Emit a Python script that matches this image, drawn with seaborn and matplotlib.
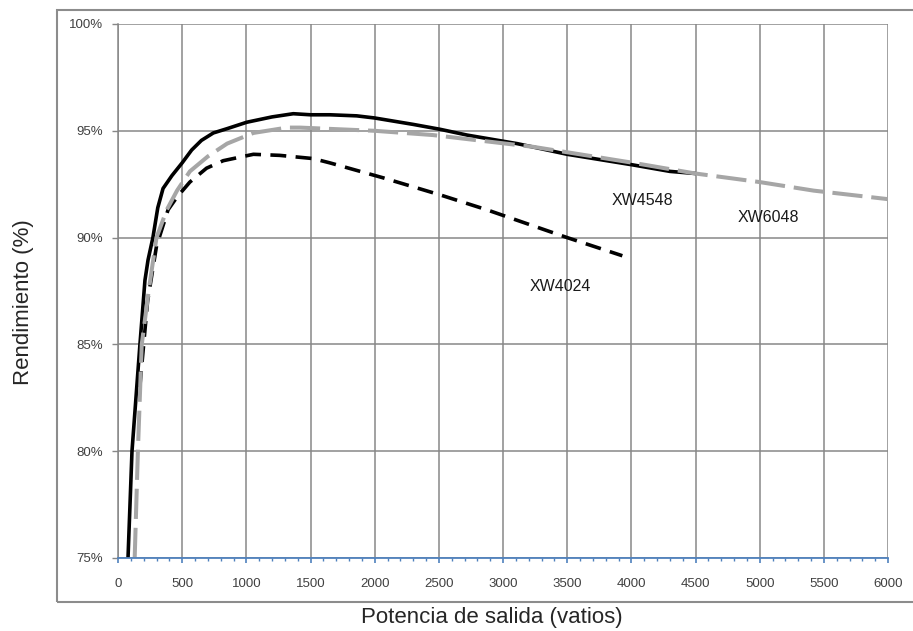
import matplotlib
matplotlib.use("Agg")
import matplotlib.pyplot as plt
from matplotlib.patches import Rectangle
from matplotlib.ticker import MultipleLocator, FuncFormatter
import seaborn as sns
import pandas as pd

# ---- data ----
xw4548_w = [78, 109, 171, 210, 234, 272, 310, 351, 420, 500, 574, 650, 743, 850, 1003, 1200, 1366,
            1500, 1650, 1860, 2000, 2300, 2510, 2720, 3110, 3500, 4015, 4300, 4500]
xw4548_eff = [75.0, 80.0, 85.0, 88.0, 88.95, 90.0, 91.4, 92.3, 92.9, 93.5, 94.1, 94.55, 94.9, 95.1, 95.4,
              95.65, 95.8, 95.75, 95.75, 95.7, 95.6, 95.3, 95.07, 94.8, 94.4, 93.9, 93.4, 93.1, 93.0]

xw4024_w = [170, 230, 300, 390, 460, 560, 690, 820, 1055, 1260, 1520, 1650, 2065, 2510, 2875, 3500, 3930]
xw4024_eff = [83.0, 87.0, 89.6, 91.3, 91.9, 92.6, 93.25, 93.6, 93.9, 93.85, 93.7, 93.5, 92.8, 92.0, 91.3, 90.0, 89.15]

xw6048_w = [130, 155, 185, 240, 300, 380, 460, 560, 700, 850, 1055, 1317, 1418, 2000, 2455, 3235, 4015,
            4500, 5000, 5420, 6000]
xw6048_eff = [75.0, 80.0, 85.0, 87.55, 90.0, 91.3, 92.2, 93.1, 93.8, 94.4, 94.9, 95.15, 95.15, 95.0, 94.8,
              94.25, 93.5, 93.0, 92.6, 92.2, 91.8]

series_labels = ["XW4548", "XW4024", "XW6048"]
label_pos_w = [3850, 3210, 4831]
label_pos_eff = [91.76, 87.69, 90.96]

x_label = "Potencia de salida (vatios)"
y_label = "Rendimiento (%)"

# ---- figure ----
sns.set_style("white")
plt.rcParams["font.family"] = ["Liberation Sans", "DejaVu Sans"]

W, H = 913, 631
fig = plt.figure(figsize=(W / 100, H / 100), dpi=100)
ax = fig.add_axes([118 / W, 1 - 558 / H, (888 - 118) / W, (558 - 24) / H])

grid_c = "#878787"
blue = "#4f81bd"

df_a = pd.DataFrame({"w": xw4548_w, "eff": xw4548_eff})
df_b = pd.DataFrame({"w": xw4024_w, "eff": xw4024_eff})
df_c = pd.DataFrame({"w": xw6048_w, "eff": xw6048_eff})

sns.lineplot(data=df_a, x="w", y="eff", ax=ax, color="black", lw=2.6,
             solid_joinstyle="round", zorder=3)
sns.lineplot(data=df_b, x="w", y="eff", ax=ax, color="black", lw=2.6,
             linestyle=(0, (4.4, 2.6)), zorder=4)
sns.lineplot(data=df_c, x="w", y="eff", ax=ax, color="#a6a6a6", lw=2.9,
             linestyle=(0, (7.5, 2.2)), zorder=5)

ax.set_xlim(0, 6000)
ax.set_ylim(75, 100)
ax.xaxis.set_major_locator(MultipleLocator(500))
ax.xaxis.set_minor_locator(MultipleLocator(100))
ax.yaxis.set_major_locator(MultipleLocator(5))
ax.yaxis.set_major_formatter(FuncFormatter(lambda v, p: f"{v:.0f}%"))

ax.grid(True, which="major", color=grid_c, lw=1.1, zorder=1)
ax.set_axisbelow(True)
for s in ["top", "right"]:
    ax.spines[s].set_visible(False)
ax.spines["left"].set_color(grid_c)
ax.spines["left"].set_linewidth(1.1)
ax.spines["bottom"].set_color(blue)
ax.spines["bottom"].set_linewidth(1.3)
ax.spines["bottom"].set_zorder(6)

ax.tick_params(axis="y", which="major", direction="out", length=4, width=1,
               color=grid_c, pad=7, labelsize=9.5, labelcolor="#404040", left=True)
ax.tick_params(axis="x", which="major", direction="out", length=3.5, width=1.2,
               color=blue, pad=11, labelsize=9.5, labelcolor="#404040", bottom=True)
ax.tick_params(axis="x", which="minor", direction="out", length=2.5, width=1.0,
               color=blue, bottom=True)

ax.set_xlabel("")
ax.set_ylabel("")

for lab, lw_, le in zip(series_labels, label_pos_w, label_pos_eff):
    ax.text(lw_, le, lab, fontsize=11.5, color="#1a1a1a", ha="left", va="center")

fig.text(492 / W, 1 - 617 / H, x_label, fontsize=16, ha="center", va="center")
fig.text(23 / W, 1 - 302 / H, y_label, fontsize=16, ha="center", va="center",
         rotation=90)

# outer chart-area frame
fig.patches.append(Rectangle((57 / W, 1 - 602 / H), 1.0, (602 - 10) / H,
                             transform=fig.transFigure, fill=False,
                             edgecolor="#8c8c8c", lw=1.5, zorder=0))

fig.savefig("out.png", dpi=100)
